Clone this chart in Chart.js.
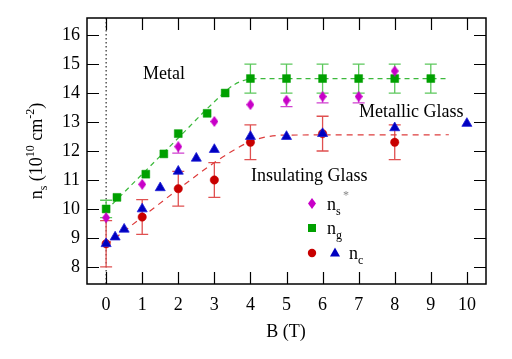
<!DOCTYPE html>
<html>
<head>
<meta charset="utf-8">
<script src="https://cdn.jsdelivr.net/npm/chart.js@4/dist/chart.umd.min.js"></script>
<style>
  html, body { margin: 0; padding: 0; background: #fff; }
  canvas { display: block; }
</style>
</head>
<body>
<canvas id="chart" width="512" height="359"></canvas>
<script>
// --- данные ---
const xTicks = [0, 1, 2, 3, 4, 5, 6, 7, 8, 9, 10];
const yTicks = [8, 9, 10, 11, 12, 13, 14, 15, 16];

// n_s* (ромбы)
const nsB   = [0, 1, 2, 3, 4, 5, 6, 7, 8];
const nsVal = [9.7, 10.85, 12.15, 13.02, 13.6, 13.75, 13.88, 13.88, 14.76];
const nsErrLo = [0, 0, 0.22, 0, 0, 0.22, 0.22, 0.22, 0];

// n_g (квадраты)
const ngB   = [0, 0.3, 1.1, 1.6, 2, 2.8, 3.3, 4, 5, 6, 7, 8, 9];
const ngVal = [10.0, 10.4, 11.2, 11.9, 12.6, 13.3, 14.0, 14.5, 14.5, 14.5, 14.5, 14.5, 14.5];
const ngErr = [0.3, 0, 0, 0, 0, 0, 0, 0.5, 0.5, 0.5, 0.5, 0.5, 0.5];

// n_c (кружки, изолирующее стекло)
const ncRedB   = [0, 1, 2, 3, 4, 6, 8];
const ncRedVal = [8.8, 9.72, 10.7, 11.0, 12.3, 12.6, 12.3];
const ncRedErr = [0.8, 0.6, 0.6, 0.6, 0.6, 0.6, 0.6];

// n_c (треугольники)
const ncBlueB   = [0, 0.25, 0.5, 1, 1.5, 2, 2.5, 3, 4, 5, 6, 8, 10];
const ncBlueVal = [8.8, 9.03, 9.3, 10.0, 10.73, 11.3, 11.75, 12.05, 12.5, 12.5, 12.6, 12.8, 12.95];

// пунктирные кривые
const greenFitB = [0, 1, 2, 3, 3.5, 3.8, 4.2, 5, 9.5];
const greenFitV = [9.95, 11.2, 12.45, 13.7, 14.25, 14.43, 14.5, 14.5, 14.5];
const redFitB = [0, 1, 2, 3, 3.5, 4, 4.5, 5, 9.5];
const redFitV = [8.75, 9.72, 10.68, 11.6, 12.0, 12.33, 12.5, 12.55, 12.56];

const SERIF = '"Liberation Serif", "DejaVu Serif", serif';
const pts = (xs, ys) => xs.map((x, i) => ({ x: x, y: ys[i] }));

// вытянутый ромб
function makeDiamond(color) {
    const c = document.createElement('canvas');
    c.width = 8; c.height = 11;
    const g = c.getContext('2d');
    g.fillStyle = color;
    g.beginPath();
    g.moveTo(4, 0); g.lineTo(8, 5.5); g.lineTo(4, 11); g.lineTo(0, 5.5);
    g.closePath(); g.fill();
    return c;
}
const diamond = makeDiamond('#c800c8');

// текст с индексами
function richText(ctx, parts, x, y, align) {
    const big = 'px ' + SERIF;
    let w = 0;
    parts.forEach(p => {
        ctx.font = (p.sub || p.sup ? 12 : 18) + big;
        w += ctx.measureText(p.t).width;
    });
    let cx = align === 'center' ? x - w / 2 : x;
    parts.forEach(p => {
        ctx.font = (p.sub || p.sup ? 12 : 18) + big;
        const dy = p.sub ? 5 : (p.sup ? -8 : 0);
        ctx.fillStyle = p.color || '#000';
        ctx.fillText(p.t, cx, y + dy);
        cx += ctx.measureText(p.t).width;
    });
}

const decor = {
    id: 'decor',
    beforeDatasetsDraw(chart) {
        const { ctx, chartArea: a, scales: { x, y } } = chart;
        ctx.save();
        // пунктир B = 0
        ctx.strokeStyle = '#000';
        ctx.lineWidth = 1;
        ctx.setLineDash([1.5, 2.5]);
        ctx.beginPath();
        ctx.moveTo(x.getPixelForValue(0), a.top);
        ctx.lineTo(x.getPixelForValue(0), a.bottom);
        ctx.stroke();
        ctx.setLineDash([]);

        // погрешности
        const bars = (xs, ys, lo, hi, color) => {
            ctx.strokeStyle = color;
            ctx.lineWidth = 1.3;
            xs.forEach((b, i) => {
                if (!lo[i] && !hi[i]) return;
                const px = x.getPixelForValue(b);
                const y1 = y.getPixelForValue(ys[i] - lo[i]);
                const y2 = y.getPixelForValue(ys[i] + hi[i]);
                ctx.beginPath();
                ctx.moveTo(px, y1); ctx.lineTo(px, y2);
                if (lo[i]) { ctx.moveTo(px - 6, y1); ctx.lineTo(px + 6, y1); }
                if (hi[i]) { ctx.moveTo(px - 6, y2); ctx.lineTo(px + 6, y2); }
                ctx.stroke();
            });
        };
        bars(ngB, ngVal, ngErr, ngErr, '#5cc85c');
        bars(ncRedB, ncRedVal, ncRedErr, ncRedErr, '#e05050');
        bars(nsB, nsVal, nsErrLo, nsB.map(() => 0), '#d040d0');
        ctx.restore();
    },
    afterDatasetsDraw(chart) {
        const { ctx, chartArea: a, scales: { x, y } } = chart;
        ctx.save();
        // рамка и внутренние засечки
        ctx.strokeStyle = '#000';
        ctx.lineWidth = 1.5;
        ctx.strokeRect(a.left, a.top, a.right - a.left, a.bottom - a.top);
        ctx.lineWidth = 1.2;
        ctx.beginPath();
        xTicks.forEach(v => {
            const px = Math.round(x.getPixelForValue(v)) + 0.5;
            ctx.moveTo(px, a.bottom); ctx.lineTo(px, a.bottom - 12);
            ctx.moveTo(px, a.top); ctx.lineTo(px, a.top + 12);
        });
        yTicks.forEach(v => {
            const py = Math.round(y.getPixelForValue(v)) + 0.5;
            ctx.moveTo(a.left, py); ctx.lineTo(a.left + 12, py);
            ctx.moveTo(a.right, py); ctx.lineTo(a.right - 12, py);
        });
        ctx.stroke();

        ctx.textBaseline = 'alphabetic';
        ctx.textAlign = 'left';
        // подписи осей
        richText(ctx, [{ t: 'B (T)' }], 286, 337, 'center');
        ctx.save();
        ctx.translate(42, 151);
        ctx.rotate(-Math.PI / 2);
        richText(ctx, [{ t: 'n' }, { t: 's', sub: true }, { t: ' (10' }, { t: '10', sup: true },
                       { t: ' cm' }, { t: '-2', sup: true }, { t: ')' }], 0, 0, 'center');
        ctx.restore();

        // области
        richText(ctx, [{ t: 'Metal' }], 143, 79, 'left');
        richText(ctx, [{ t: 'Metallic Glass' }], 359, 117, 'left');
        richText(ctx, [{ t: 'Insulating Glass' }], 251, 181, 'left');

        // легенда
        ctx.drawImage(diamond, 308, 198);
        richText(ctx, [{ t: 'n' }, { t: 's', sub: true }], 327, 210, 'left');
        richText(ctx, [{ t: '*', sup: true, color: '#888' }], 343, 207, 'left');
        ctx.fillStyle = '#00a000';
        ctx.fillRect(308, 224, 8, 8);
        richText(ctx, [{ t: 'n' }, { t: 'g', sub: true }], 327, 234, 'left');
        ctx.fillStyle = '#c80000';
        ctx.beginPath(); ctx.arc(312, 253, 4.2, 0, Math.PI * 2); ctx.fill();
        ctx.fillStyle = '#0000c0';
        ctx.beginPath();
        ctx.moveTo(335, 247.5); ctx.lineTo(340, 256.5); ctx.lineTo(330, 256.5);
        ctx.closePath(); ctx.fill();
        richText(ctx, [{ t: 'n' }, { t: 'c', sub: true }], 349, 259, 'left');
        ctx.restore();
    }
};

const tickFont = { family: SERIF, size: 18 };

new Chart(document.getElementById('chart').getContext('2d'), {
    type: 'scatter',
    data: {
        datasets: [
            { data: pts(ncBlueB, ncBlueVal), pointStyle: 'triangle', pointRadius: 5.8,
              backgroundColor: '#0000c0', borderColor: '#2020d8', borderWidth: 0.8 },
            { data: pts(ncRedB, ncRedVal), pointStyle: 'circle', pointRadius: 4.2,
              backgroundColor: '#c80000', borderColor: '#c80000', borderWidth: 0.5 },
            { data: pts(nsB, nsVal), pointStyle: diamond, pointRadius: 6 },
            { data: pts(ngB, ngVal), pointStyle: 'rect', pointRadius: 5.6,
              backgroundColor: '#00a000', borderColor: '#00a000', borderWidth: 0.5 },
            { data: pts(greenFitB, greenFitV), showLine: true, pointRadius: 0,
              borderColor: '#3cb93c', borderWidth: 1.2, borderDash: [5, 4],
              cubicInterpolationMode: 'monotone' },
            { data: pts(redFitB, redFitV), showLine: true, pointRadius: 0,
              borderColor: '#dd3c3c', borderWidth: 1.2, borderDash: [6, 5],
              cubicInterpolationMode: 'monotone' }
        ]
    },
    options: {
        responsive: false,
        animation: false,
        layout: { padding: { top: 18, right: 26, left: 0, bottom: 0 } },
        plugins: { legend: { display: false }, tooltip: { enabled: false } },
        scales: {
            x: {
                type: 'linear', min: -0.53, max: 10.53,
                afterBuildTicks: s => { s.ticks = xTicks.map(v => ({ value: v })); },
                afterFit: s => { s.height = 75; },
                grid: { display: false, drawTicks: false },
                border: { display: false },
                ticks: { font: tickFont, color: '#000', padding: 10, maxRotation: 0, autoSkip: false }
            },
            y: {
                type: 'linear', min: 7.41, max: 16.59,
                afterBuildTicks: s => { s.ticks = yTicks.map(v => ({ value: v })); },
                afterFit: s => { s.width = 87; },
                grid: { display: false, drawTicks: false },
                border: { display: false },
                ticks: { font: tickFont, color: '#000', padding: 7, autoSkip: false }
            }
        }
    },
    plugins: [decor]
});
</script>
</body>
</html>
